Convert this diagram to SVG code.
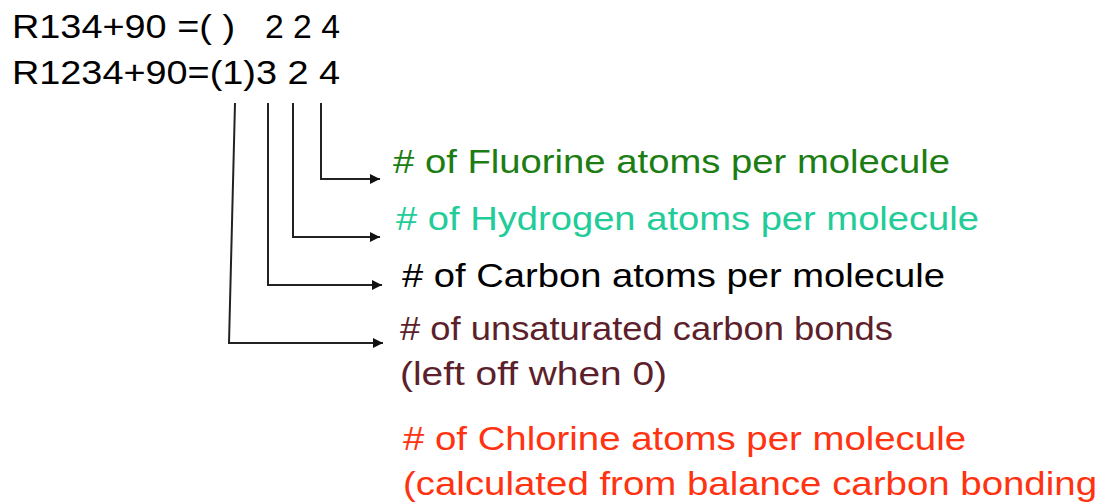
<svg xmlns="http://www.w3.org/2000/svg" width="1102" height="503" viewBox="0 0 1102 503">
  <style>
    text { font-family: "Liberation Sans", Arial, sans-serif; font-size: 34px; }
    .conn { fill: none; stroke: #222; stroke-width: 2; }
    .fl { fill: #1b7d12; }
    .hy { fill: #22cc99; }
    .ca { fill: #000000; }
    .un { fill: #5c1f2b; }
    .cl { fill: #ff3311; }
  </style>
  <defs>
    <marker id="arr" viewBox="0 0 10 10" refX="10" refY="5" markerWidth="12" markerHeight="10" markerUnits="userSpaceOnUse" orient="auto">
      <path d="M0,0 L10,5 L0,10 Z" fill="#111"/>
    </marker>
  </defs>
  <rect width="1102" height="503" fill="#ffffff"/>
  <g id="formula-r134">
    <text x="12" y="38" textLength="223" lengthAdjust="spacingAndGlyphs">R134+90 =( )</text>
    <text x="265" y="38" textLength="75" lengthAdjust="spacingAndGlyphs">2 2 4</text>
  </g>
  <g id="formula-r1234">
    <text x="12" y="84" textLength="328" lengthAdjust="spacingAndGlyphs">R1234+90=(1)3 2 4</text>
  </g>
  <g id="connectors">
    <path class="conn" d="M321,103 V179 H380" marker-end="url(#arr)"/>
    <path class="conn" d="M293,103 V237 H380" marker-end="url(#arr)"/>
    <path class="conn" d="M268,103 V285 H382" marker-end="url(#arr)"/>
    <path class="conn" d="M235,103 L229,343 H383" marker-end="url(#arr)"/>
  </g>
  <g id="fluorine">
    <text class="fl" x="393" y="173" textLength="557" lengthAdjust="spacingAndGlyphs"># of Fluorine atoms per molecule</text>
  </g>
  <g id="hydrogen">
    <text class="hy" x="396" y="230" textLength="583" lengthAdjust="spacingAndGlyphs"># of Hydrogen atoms per molecule</text>
  </g>
  <g id="carbon">
    <text class="ca" x="402" y="287" textLength="543" lengthAdjust="spacingAndGlyphs"># of Carbon atoms per molecule</text>
  </g>
  <g id="unsaturated">
    <text class="un" x="400" y="340" textLength="493" lengthAdjust="spacingAndGlyphs"># of unsaturated carbon bonds</text>
    <text class="un" x="400" y="385" textLength="267" lengthAdjust="spacingAndGlyphs">(left off when 0)</text>
  </g>
  <g id="chlorine">
    <text class="cl" x="403" y="450" textLength="563" lengthAdjust="spacingAndGlyphs"># of Chlorine atoms per molecule</text>
    <text class="cl" x="403" y="495" textLength="694" lengthAdjust="spacingAndGlyphs">(calculated from balance carbon bonding</text>
  </g>
</svg>
